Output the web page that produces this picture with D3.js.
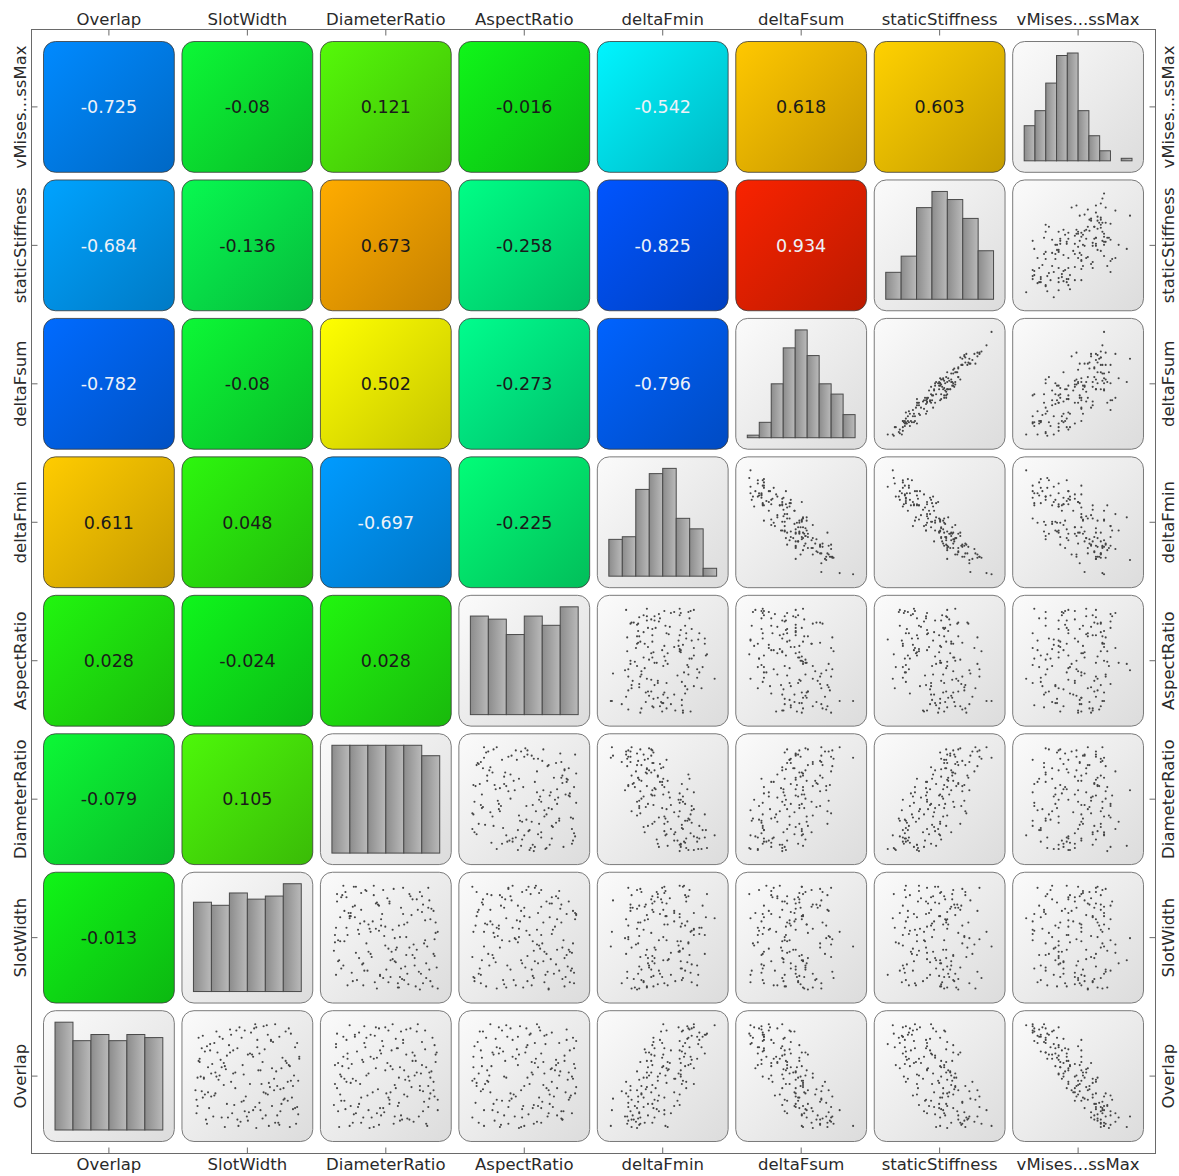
<!DOCTYPE html>
<html>
<head>
<meta charset="utf-8">
<script src="https://cdnjs.cloudflare.com/ajax/libs/d3/7.8.5/d3.min.js"></script>
<style>
  body { margin: 0; background: #fff; }
  svg text { font-family: 'DejaVu Sans', Verdana, sans-serif; }
</style>
</head>
<body>
<svg id="chart" width="1179" height="1176"></svg>
<script>
// column order, left to right (rows run the other way, top to bottom)
const variables = ['Overlap', 'SlotWidth', 'DiameterRatio', 'AspectRatio', 'deltaFmin', 'deltaFsum', 'staticStiffness', 'vMises...ssMax'];

// correlation coefficients, same order as variables
const corrOverlap = [1, -0.013, -0.079, 0.028, 0.611, -0.782, -0.684, -0.725];
const corrSlotWidth = [-0.013, 1, 0.105, -0.024, 0.048, -0.08, -0.136, -0.08];
const corrDiameterRatio = [-0.079, 0.105, 1, 0.028, -0.697, 0.502, 0.673, 0.121];
const corrAspectRatio = [0.028, -0.024, 0.028, 1, -0.225, -0.273, -0.258, -0.016];
const corrDeltaFmin = [0.611, 0.048, -0.697, -0.225, 1, -0.796, -0.825, -0.542];
const corrDeltaFsum = [-0.782, -0.08, 0.502, -0.273, -0.796, 1, 0.934, 0.618];
const corrStaticStiffness = [-0.684, -0.136, 0.673, -0.258, -0.825, 0.934, 1, 0.603];
const corrVMises = [-0.725, -0.08, 0.121, -0.016, -0.542, 0.618, 0.603, 1];

// histogram counts on the diagonal
const histOverlap = [35, 29, 31, 29, 31, 30];
const histSlotWidth = [29, 28, 32, 30, 31, 35];
const histDiameterRatio = [31, 31, 31, 31, 31, 28];
const histAspectRatio = [32, 31, 26, 32, 29, 35];
const histDeltaFmin = [14, 15, 33, 39, 41, 22, 18, 3];
const histDeltaFsum = [1, 6, 21, 35, 42, 32, 21, 17, 9];
const histStaticStiffness = [10, 16, 34, 40, 37, 30, 18];
const histVMises = [14, 20, 31, 42, 43, 20, 10, 4, 0, 1];

// design samples (normalised units), one entry per run
const overlap = [12,87,45,63,30,74,5,52,96,21,38,69,17,81,2,57,33,91,48,26,78,9,60,41,99,14,66,35,84,23,72,50,7,94,43,19,64,1,55,86,29,76,11,47,68,32,89,16,58,37,80,4,53,97,27,62,10,71,40,92,20,49,83,6,59,34,75,13,44,88,24,65,3,51,95,31,70,18,56,82,8,42,93,28,61,15,77,46,98,36,67,22,54,85,0,39,73,25,90,58,11,44,79,34,64,5,96,20,49,71,30,87,17,52,76,2,40,62,27,93,14,55,81,36,68,8,47,99,23,60,42,74,12,89,33,66,19,50,84,26,57,4,77,38,92,10,63,45,29,70,1,53,86,32,72,16,48,95,21,59];
const slotWidth = [67,23,91,4,48,36,79,15,58,2,84,30,62,97,41,73,19,53,8,88,11,64,45,27,76,35,99,6,59,82,21,94,50,33,70,13,86,28,60,3,92,40,17,75,55,9,69,47,25,81,14,96,38,65,1,87,31,52,78,20,57,5,72,43,90,12,66,98,34,7,61,24,80,46,89,18,54,93,29,74,10,63,39,85,16,51,95,22,68,0,83,37,77,26,58,71,9,44,91,12,49,88,32,65,3,76,42,97,20,61,15,80,55,36,6,70,93,27,84,47,1,62,18,75,99,40,8,57,30,89,52,14,78,34,67,4,95,23,72,46,82,11,59,38,86,25,64,98,7,50,90,19,44,69,33,81,2,56,73,28];
const diameterRatio = [45,9,72,28,96,55,18,83,40,61,3,77,33,66,89,14,50,24,92,7,47,70,1,58,80,21,38,85,12,53,98,31,63,69,16,44,75,5,49,94,26,60,81,10,35,67,20,4,88,42,2,57,79,29,99,51,36,13,90,64,23,71,46,76,8,54,87,19,95,39,62,27,43,6,73,32,97,11,56,84,65,25,52,91,17,48,30,68,15,82,41,0,93,59,34,74,22,86,3,63,58,12,96,37,78,26,49,90,7,45,70,20,99,33,61,15,82,4,53,87,41,67,29,95,9,72,18,56,24,84,1,44,64,35,92,13,47,77,66,10,40,88,2,59,79,28,97,21,52,69,38,91,31,6,75,85,62,43,16,54];
const aspectRatio = [81,34,15,57,42,93,66,7,26,49,71,88,20,60,12,98,37,76,53,29,3,85,44,68,18,95,61,9,39,74,51,83,22,90,5,58,32,47,79,14,64,27,72,96,2,40,55,87,63,11,70,35,92,46,24,82,1,66,50,8,77,31,99,62,19,89,43,54,16,69,4,80,28,58,37,94,21,48,75,6,86,13,65,38,97,25,52,91,33,73,10,59,84,23,45,99,30,67,56,2,41,76,53,18,88,7,64,35,95,26,78,44,12,69,97,50,5,60,92,29,73,15,83,47,39,86,3,62,21,80,55,9,31,71,98,42,66,17,90,36,76,59,24,81,11,48,68,1,93,45,27,57,96,74,20,85,33,52,63,10];
const deltaFmin = [38,83,47,56,20,67,35,49,80,26,73,44,53,51,4,80,32,85,34,47,70,29,75,42,52,59,67,14,85,42,39,54,20,76,55,43,41,56,68,43,53,44,19,62,77,32,91,48,38,36,84,31,37,74,23,58,31,90,22,69,34,47,67,27,72,41,35,53,18,78,20,78,30,68,75,48,41,46,57,43,25,69,70,6,77,30,76,30,99,28,51,67,28,74,28,37,69,29,92,51,17,73,42,62,37,42,66,20,68,72,29,88,5,66,53,54,32,68,44,55,30,56,72,22,71,23,63,80,38,42,80,59,24,90,18,83,28,39,49,65,55,19,87,45,50,44,31,70,34,52,23,41,75,67,36,22,37,78,62,52];
const deltaFsum = [58,27,59,38,83,27,66,67,32,59,42,42,62,35,100,20,61,26,55,55,42,75,22,59,42,46,40,74,27,53,61,33,81,25,59,56,56,59,45,44,56,41,83,31,37,69,27,44,49,70,16,73,51,25,74,38,82,22,57,49,53,57,26,82,33,60,48,58,77,16,78,25,73,42,38,36,63,61,43,49,70,48,31,74,25,80,23,53,16,63,56,42,53,43,67,59,26,73,15,54,78,34,56,52,45,79,19,82,26,49,53,27,89,48,27,58,75,33,44,48,60,62,17,80,29,73,43,31,63,46,45,44,71,26,53,35,66,61,33,46,46,84,22,53,52,62,46,58,55,44,79,53,18,40,58,67,67,23,52,58];
const staticStiffness = [59,17,66,30,93,25,65,69,34,61,32,49,57,41,105,14,57,23,68,45,41,82,10,65,45,41,33,83,19,53,74,33,78,31,53,53,66,50,41,54,54,40,91,22,38,67,22,38,55,68,2,76,60,20,89,35,80,17,69,50,48,55,28,88,24,63,60,49,86,16,76,21,75,31,47,27,72,55,41,61,72,46,27,84,19,78,19,61,7,72,49,33,64,44,61,69,20,76,8,58,83,20,67,48,55,74,17,93,18,45,62,17,100,47,29,54,79,28,40,58,58,62,14,91,20,81,37,29,60,58,31,44,72,26,61,23,67,65,40,39,42,95,9,57,59,54,60,52,56,46,79,64,13,31,67,71,70,24,43,54];
const vMises = [72,29,54,54,51,42,68,43,30,70,50,40,68,27,68,46,69,24,56,50,52,64,47,52,31,75,36,53,54,63,32,55,64,28,61,56,46,82,46,39,55,38,69,42,54,52,29,72,41,59,37,69,57,24,58,60,60,45,51,25,66,50,25,75,47,50,46,64,63,27,65,40,72,40,32,72,34,63,57,31,62,53,37,56,50,60,35,63,20,58,39,70,44,43,71,57,29,67,33,41,84,46,40,49,45,66,40,63,43,38,68,28,67,40,44,68,59,43,73,24,67,54,32,48,45,66,61,24,62,53,46,54,62,34,63,33,67,51,32,54,58,66,40,45,36,77,41,52,61,36,66,55,32,61,32,66,64,25,68,38];

// lookup tables built from the arrays above
const corr = [corrOverlap, corrSlotWidth, corrDiameterRatio, corrAspectRatio, corrDeltaFmin, corrDeltaFsum, corrStaticStiffness, corrVMises];
const hists = [histOverlap, histSlotWidth, histDiameterRatio, histAspectRatio, histDeltaFmin, histDeltaFsum, histStaticStiffness, histVMises];
const samples = [overlap, slotWidth, diameterRatio, aspectRatio, deltaFmin, deltaFsum, staticStiffness, vMises];

const svg = d3.select('#chart');
const defs = svg.append('defs');

const x = d3.scaleBand().domain(variables).range([43, 1144]).paddingInner(0.048);
const y = d3.scaleBand().domain(variables.slice().reverse()).range([41, 1142]).paddingInner(0.048);
const w = x.bandwidth();
const h = y.bandwidth();
const inset = 12;

// jet-like map for the coefficients
const colour = d3.scaleLinear()
  .domain([-1, -0.75, -0.55, -0.25, 0, 0.25, 0.5, 0.75, 1])
  .range(['#0000e0', '#0070f0', '#00e0f0', '#00e878', '#10e010', '#90e800', '#f0f000', '#f07800', '#e00000'])
  .interpolate(d3.interpolateRgb);

// light labels on the strong tiles
function textColour(r) {
  return (r < -0.5 || r > 0.9) ? '#eef2f8' : '#1a1a1a';
}

const panel = defs.append('linearGradient').attr('id', 'panel')
  .attr('x1', 0).attr('y1', 0).attr('x2', 1).attr('y2', 1);
panel.append('stop').attr('offset', '0%').attr('stop-color', '#fbfbfb');
panel.append('stop').attr('offset', '100%').attr('stop-color', '#dcdcdc');

const barFill = defs.append('linearGradient').attr('id', 'bar')
  .attr('x1', 0).attr('y1', 0).attr('x2', 1).attr('y2', 0);
barFill.append('stop').attr('offset', '0%').attr('stop-color', '#8c8c8c');
barFill.append('stop').attr('offset', '100%').attr('stop-color', '#bababa');

// frame
svg.append('rect')
  .attr('x', 31.5).attr('y', 29.5)
  .attr('width', 1124).attr('height', 1124)
  .attr('fill', 'none').attr('stroke', '#6a6a6a');

function styleAxis(g) {
  g.select('.domain').remove();
  g.selectAll('line').attr('stroke', '#6a6a6a');
  g.selectAll('text').attr('font-size', 16.5).attr('fill', '#2a2a2a');
}

svg.append('g').attr('transform', 'translate(0,29.5)')
  .call(d3.axisTop(x).tickSize(-6).tickPadding(5)).call(styleAxis);
svg.append('g').attr('transform', 'translate(0,1153.5)')
  .call(d3.axisBottom(x).tickSize(-6).tickPadding(5)).call(styleAxis);
svg.append('g').attr('transform', 'translate(31.5,0)')
  .call(d3.axisLeft(y).tickSize(-6)).call(styleAxis)
  .selectAll('text')
  .attr('transform', 'rotate(-90)')
  .attr('x', 0).attr('y', -6).attr('dy', 0)
  .attr('text-anchor', 'middle');
svg.append('g').attr('transform', 'translate(1155.5,0)')
  .call(d3.axisRight(y).tickSize(-6)).call(styleAxis)
  .selectAll('text')
  .attr('transform', 'rotate(-90)')
  .attr('x', 0).attr('y', 18).attr('dy', 0)
  .attr('text-anchor', 'middle');

const cells = [];
variables.forEach(function(rowVar, j) {
  variables.forEach(function(colVar, i) {
    cells.push({ row: rowVar, col: colVar, i: i, j: j });
  });
});

const cell = svg.append('g')
  .selectAll('g')
  .data(cells)
  .enter()
  .append('g')
  .attr('transform', function(d) {
    return 'translate(' + x(d.col) + ',' + y(d.row) + ')';
  });

cell.each(function(d) {
  const g = d3.select(this);

  if (d.i < d.j) {
    // coefficient tile
    const r = corr[d.j][d.i];
    const c = colour(r);
    const id = 'corr-' + d.i + '-' + d.j;
    const grad = defs.append('linearGradient').attr('id', id)
      .attr('x1', 0).attr('y1', 0).attr('x2', 1).attr('y2', 1);
    grad.append('stop').attr('offset', '0%').attr('stop-color', d3.rgb(c).brighter(0.25));
    grad.append('stop').attr('offset', '100%').attr('stop-color', d3.rgb(c).darker(0.55));

    g.append('rect')
      .attr('x', 0.5).attr('y', 0.5)
      .attr('width', w - 1).attr('height', h - 1)
      .attr('rx', 12)
      .attr('fill', 'url(#' + id + ')')
      .attr('stroke', '#3a3a3a')
      .attr('stroke-opacity', 0.8);

    g.append('text')
      .attr('x', w / 2).attr('y', h / 2)
      .attr('dy', '0.36em')
      .attr('text-anchor', 'middle')
      .attr('font-size', 17.5)
      .attr('fill', textColour(r))
      .text(String(r));
    return;
  }

  g.append('rect')
    .attr('x', 0.5).attr('y', 0.5)
    .attr('width', w - 1).attr('height', h - 1)
    .attr('rx', 12)
    .attr('fill', 'url(#panel)')
    .attr('stroke', '#7a7a7a');

  if (d.i === d.j) {
    // histogram of the variable itself
    const counts = hists[d.i];
    const bx = d3.scaleBand().domain(d3.range(counts.length)).range([inset, w - inset]);
    const by = d3.scaleLinear().domain([0, d3.max(counts)]).range([h - inset, inset]);
    g.append('g')
      .selectAll('rect')
      .data(counts)
      .enter()
      .append('rect')
      .attr('x', (c, k) => bx(k))
      .attr('y', c => by(c))
      .attr('width', bx.bandwidth())
      .attr('height', c => by(0) - by(c))
      .attr('fill', 'url(#bar)')
      .attr('stroke', '#4a4a4a')
      .attr('stroke-width', 1);
    return;
  }

  // scatter of column variable against row variable
  const xs = samples[d.i];
  const ys = samples[d.j];
  const sx = d3.scaleLinear().domain(d3.extent(xs)).range([inset + 2, w - inset - 2]);
  const sy = d3.scaleLinear().domain(d3.extent(ys)).range([h - inset - 2, inset + 2]);
  g.append('g')
    .selectAll('circle')
    .data(xs)
    .enter()
    .append('circle')
    .attr('cx', (v, k) => sx(v))
    .attr('cy', (v, k) => sy(ys[k]))
    .attr('r', 1.05)
    .attr('fill', '#444');
});
</script>
</body>
</html>
